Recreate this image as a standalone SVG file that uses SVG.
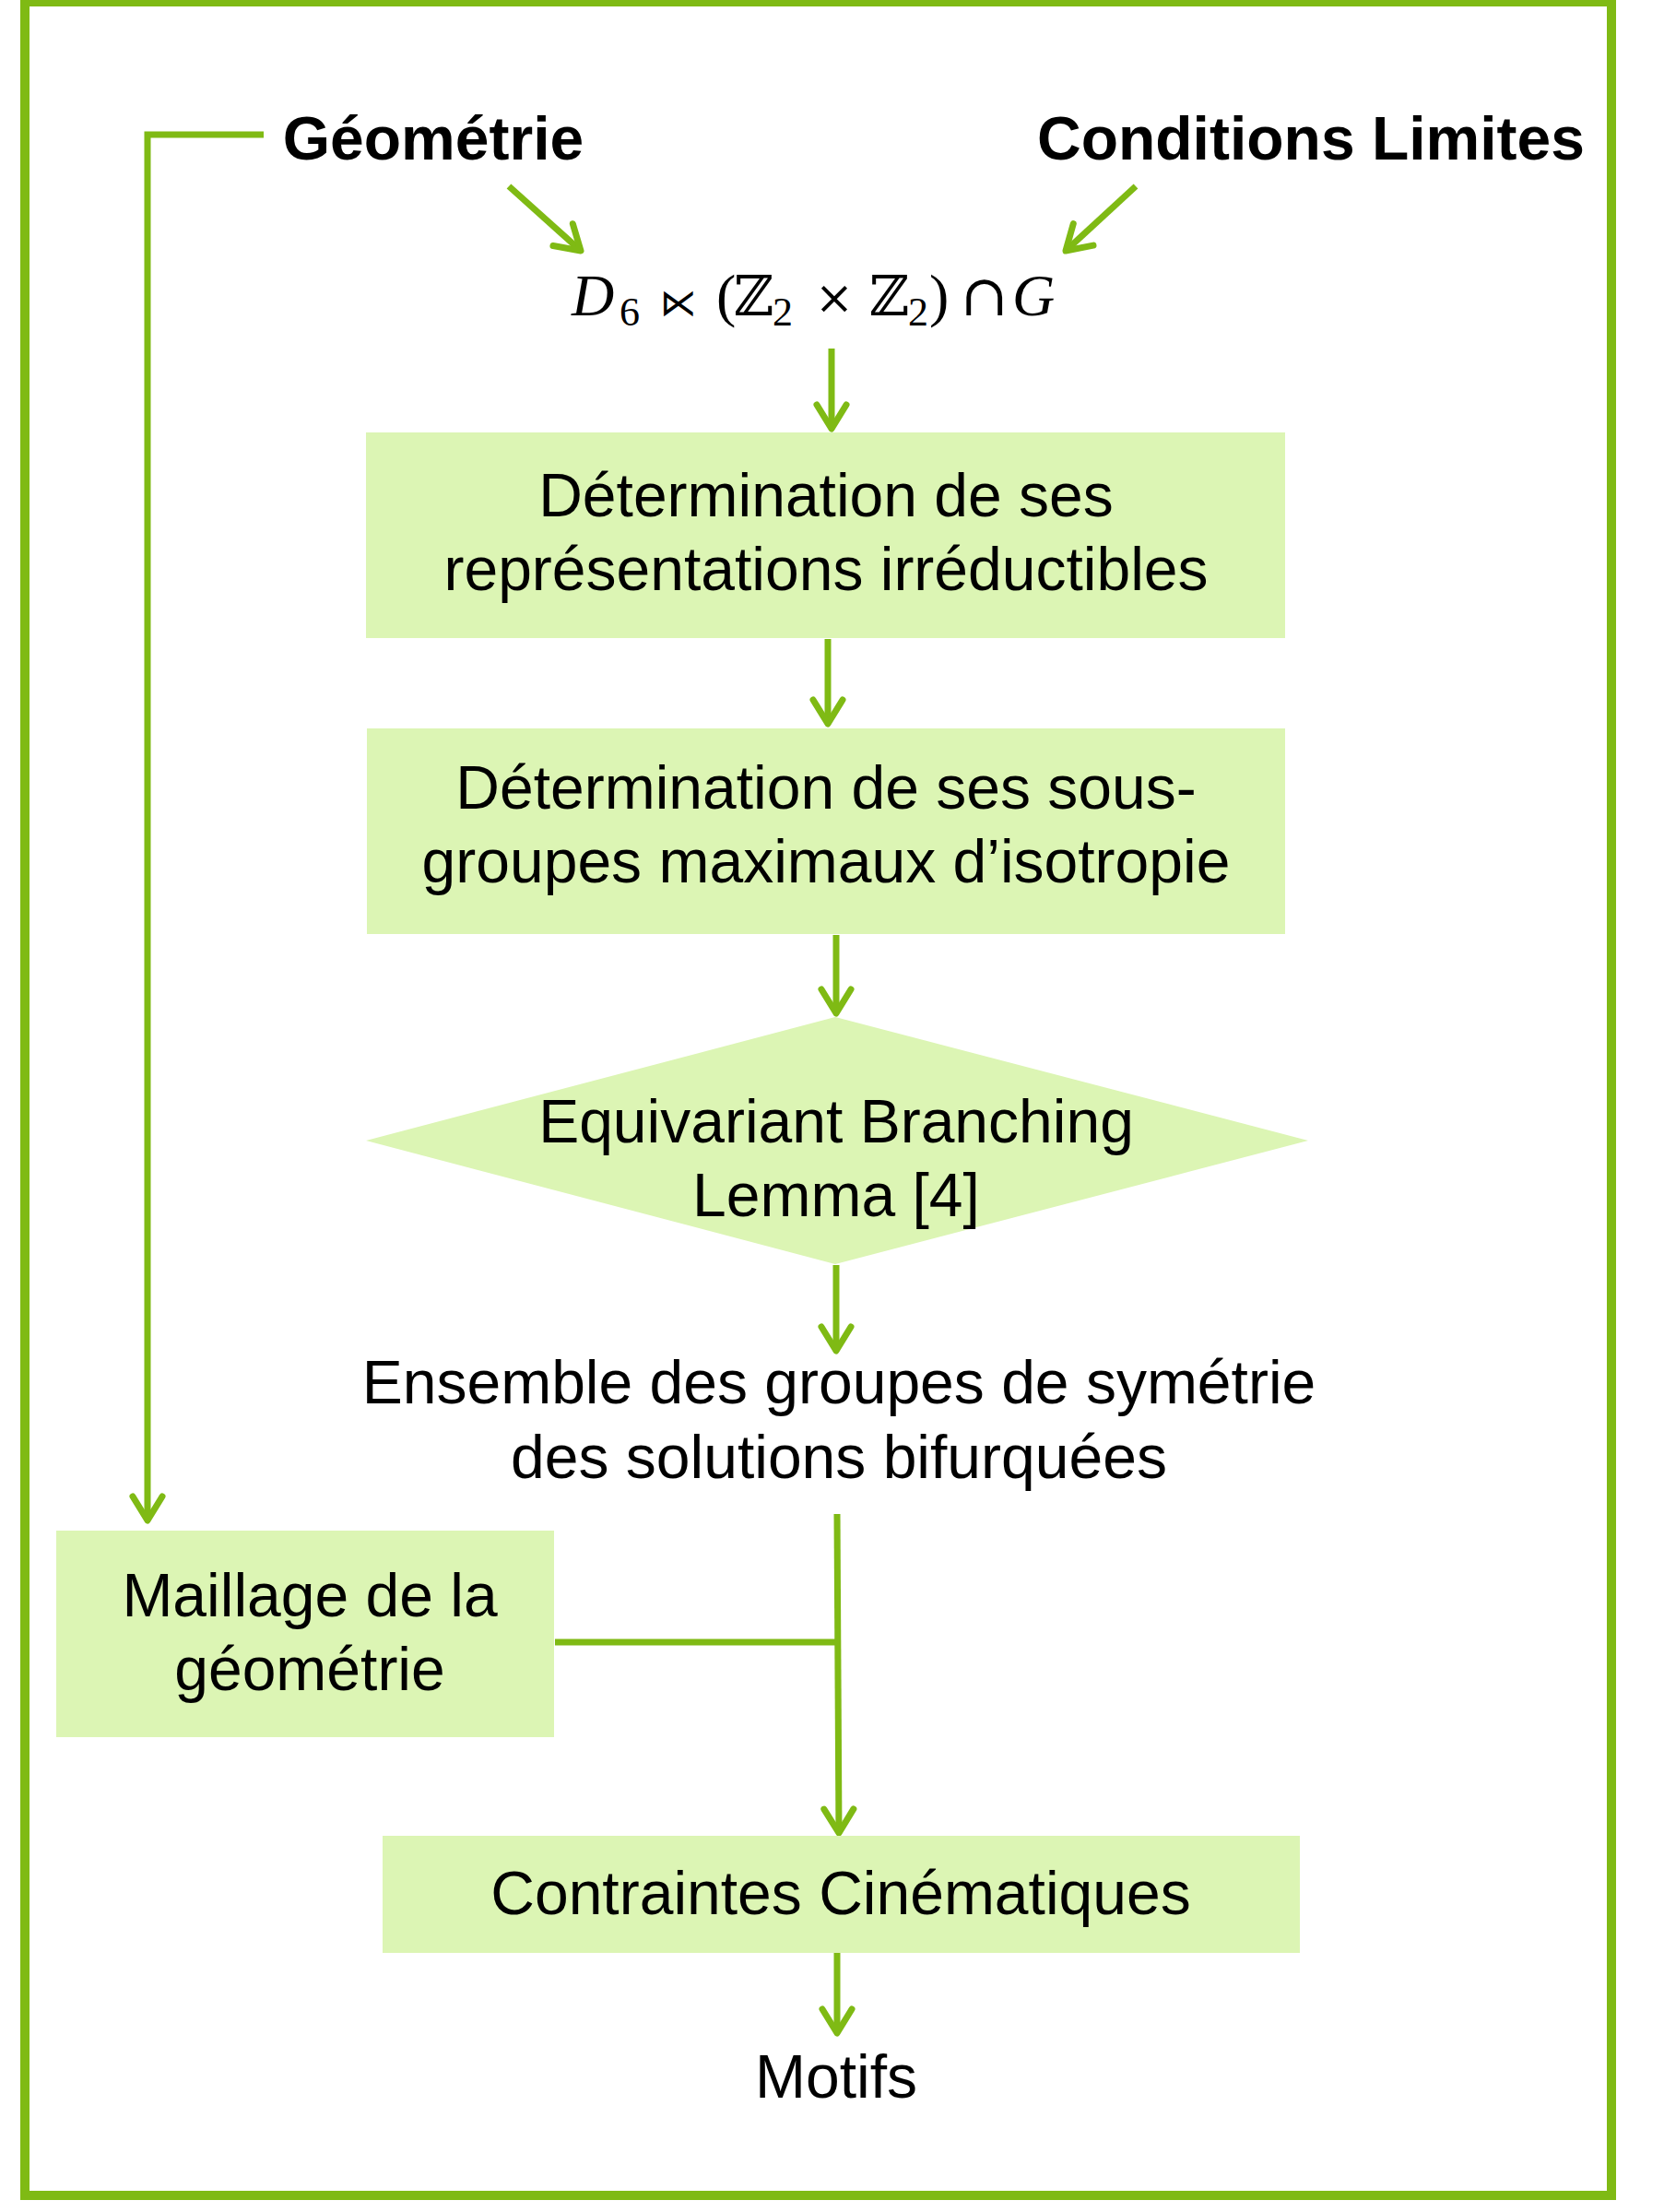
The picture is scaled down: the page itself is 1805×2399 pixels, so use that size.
<svg xmlns="http://www.w3.org/2000/svg" width="1805" height="2399" viewBox="0 0 1805 2399">
<style>
.frame{fill:none;stroke:#7FBA14;stroke-width:10}
.box{fill:#DCF5B4}
.con{fill:none;stroke:#7FBA14;stroke-width:7}
.t{font-family:"Liberation Sans",Arial,sans-serif;font-size:66px;fill:#000;text-anchor:middle}
.b{font-family:"Liberation Sans",Arial,sans-serif;font-size:66px;font-weight:bold;fill:#000;text-anchor:middle}
.m{font-family:"Liberation Serif","DejaVu Serif",serif;fill:#000}
.s{font-family:"DejaVu Serif","DejaVu Sans",serif;fill:#000}
</style>
<defs>
<marker id="arr" markerUnits="userSpaceOnUse" markerWidth="80" markerHeight="80" viewBox="-40 -40 80 80" refX="0" refY="0" orient="auto" overflow="visible">
<path d="M-26,-16 L0,0 L-26,16" fill="none" stroke="#7FBA14" stroke-width="7" stroke-linecap="round" stroke-linejoin="round"/>
</marker>
</defs>
<rect width="1805" height="2399" fill="#fff"/>
<rect class="frame" x="27" y="2" width="1721" height="2379"/>

<g id="connectors">
<polyline class="con" stroke-width="8" points="286,146 160,146 160,1649" marker-end="url(#arr)"/>
<line class="con" stroke-width="8" x1="552" y1="202" x2="630" y2="272" marker-end="url(#arr)"/>
<line class="con" stroke-width="8" x1="1232" y1="202" x2="1156" y2="272" marker-end="url(#arr)"/>
<line class="con" x1="902" y1="378" x2="902" y2="465" marker-end="url(#arr)"/>
<line class="con" x1="898" y1="693" x2="898" y2="785" marker-end="url(#arr)"/>
<line class="con" x1="907" y1="1014" x2="907" y2="1099" marker-end="url(#arr)"/>
<line class="con" x1="907" y1="1372" x2="907" y2="1465" marker-end="url(#arr)"/>
<line class="con" x1="908" y1="1642" x2="910" y2="1988" marker-end="url(#arr)"/>
<line class="con" stroke-width="8" x1="602" y1="1781" x2="908" y2="1781"/>
<line class="con" x1="908" y1="2116" x2="908" y2="2205" marker-end="url(#arr)"/>
</g>

<g id="geometrie"><text class="b" x="470" y="173">Géométrie</text></g>
<g id="conditions"><text class="b" x="1422" y="173">Conditions Limites</text></g>

<g id="groupe">
<text class="m" font-style="italic" font-size="64" x="620" y="342">D</text>
<text class="m" font-size="44" x="672" y="353">6</text>
<text class="s" font-size="40" x="716" y="342">⋉</text>
<text class="m" font-size="64" x="777" y="342">(</text>
<text class="s" font-size="60" x="796" y="342">ℤ</text>
<text class="m" font-size="44" x="838" y="353">2</text>
<text class="s" font-size="50" x="884" y="340">×</text>
<text class="s" font-size="60" x="943" y="342">ℤ</text>
<text class="m" font-size="44" x="985" y="353">2</text>
<text class="m" font-size="64" x="1008" y="342">)</text>
<text class="s" font-size="62" x="1042" y="342">∩</text>
<text class="m" font-style="italic" font-size="64" x="1098" y="342">G</text>
</g>

<g id="box1">
<rect class="box" x="397" y="469" width="997" height="223"/>
<text class="t" x="896" y="560">Détermination de ses</text>
<text class="t" x="896" y="640">représentations irréductibles</text>
</g>

<g id="box2">
<rect class="box" x="398" y="790" width="996" height="223"/>
<text class="t" x="896" y="877">Détermination de ses sous-</text>
<text class="t" x="896" y="957">groupes maximaux d’isotropie</text>
</g>

<g id="lemma">
<polygon class="box" points="906,1103 1419,1237 906,1371 397,1237"/>
<text class="t" x="907" y="1239">Equivariant Branching</text>
<text class="t" x="907" y="1319">Lemma [4]</text>
</g>

<g id="ensemble">
<text class="t" x="910" y="1522">Ensemble des groupes de symétrie</text>
<text class="t" x="910" y="1603">des solutions bifurquées</text>
</g>

<g id="maillage">
<rect class="box" x="61" y="1660" width="540" height="224"/>
<text class="t" x="336" y="1753">Maillage de la</text>
<text class="t" x="336" y="1833">géométrie</text>
</g>

<g id="contraintes">
<rect class="box" x="415" y="1991" width="995" height="127"/>
<text class="t" x="912" y="2076">Contraintes Cinématiques</text>
</g>

<g id="motifs"><text class="t" x="907" y="2275">Motifs</text></g>
</svg>
